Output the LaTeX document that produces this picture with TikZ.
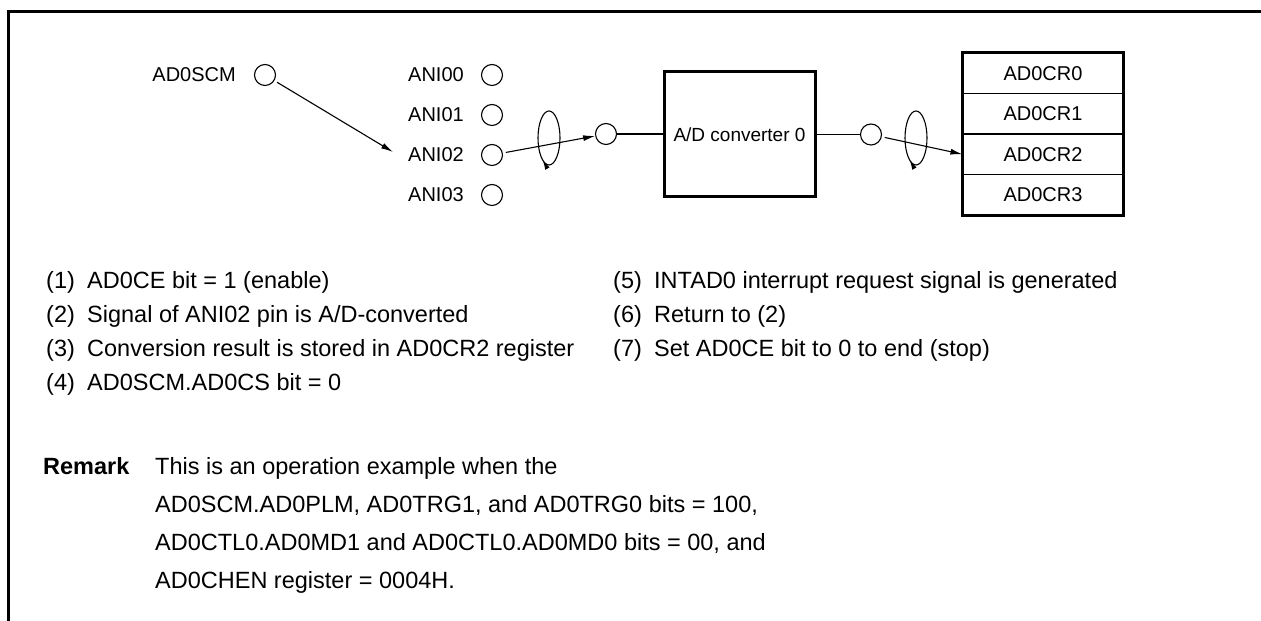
\documentclass[tikz,border=0pt]{standalone}
\usepackage{fontspec}
\setmainfont{Liberation Sans}
\usetikzlibrary{arrows.meta}
\newcommand{\itm}[1]{\makebox[41pt][l]{#1}}
\begin{document}
\begin{tikzpicture}[x=1pt,y=1pt,
  pinc/.style={circle,draw,line width=1.1pt,minimum size=21pt,inner sep=0pt},
  lbl/.style={inner sep=0pt,font=\fontsize{20}{24}\selectfont},
  body/.style={inner sep=0pt,anchor=base west,font=\fontsize{23.5}{28}\selectfont},
  arr/.style={line width=1.1pt,-{Latex[length=12pt,width=6pt]}},
  wire/.style={line width=1.1pt},
  rotarr/.style={line width=1.1pt,-{Latex[length=10pt,width=5pt]}},
  regrow/.style={draw,line width=1.1pt,minimum width=160pt,minimum height=40.5pt,inner sep=0pt,font=\fontsize{20}{24}\selectfont},
  thickbox/.style={draw,line width=3pt}
]
\useasboundingbox (0,0) rectangle (1261,621);
% frame
\draw[line width=3pt] (8,0) -- (8,609) -- (1262,609);

% source pins
\node[lbl,anchor=base east] (lscm) at (236,539) {AD0SCM};
\node[pinc] (sc) at (265,546) {};
\node[lbl,anchor=base east] (l0) at (464,539) {ANI00};
\node[pinc] (a0) at (492,546) {};
\node[lbl,anchor=base east] (l1) at (464,499) {ANI01};
\node[pinc] (a1) at (492,506) {};
\node[lbl,anchor=base east] (l2) at (464,459) {ANI02};
\node[pinc] (a2) at (492,466) {};
\node[lbl,anchor=base east] (l3) at (464,419) {ANI03};
\node[pinc] (a3) at (492,426) {};

\coordinate (t1) at (393,469);
\draw[arr,shorten <=3pt] (sc) -- (t1);

% converter
\node[pinc] (c1) at (606,487) {};
\draw[arr,shorten <=3pt] (a2) -- (c1);
\draw[wire] (549,483) ellipse [x radius=11, y radius=27];
\draw[rotarr] (549,483) ++(-100:11 and 27) arc[start angle=-100,end angle=-126,x radius=11,y radius=27];

\node[thickbox,minimum width=151pt,minimum height=125pt,inner sep=0pt,font=\fontsize{19}{23}\selectfont] (conv) at (739.5,486.5) {A/D converter 0};
\draw[wire] (c1) -- (c1 -| conv.west);

\node[pinc] (c2) at (871,486.5) {};
\draw[wire] (conv.east |- c2) -- (c2);

% registers
\node[regrow] (r0) at (1043,547.75) {AD0CR0};
\node[regrow] (r1) at (1043,507.25) {AD0CR1};
\node[regrow] (r2) at (1043,466.75) {AD0CR2};
\node[regrow] (r3) at (1043,426.25) {AD0CR3};
\draw[line width=3pt] (r0.north west) rectangle (r3.south east);

\draw[arr,shorten <=3pt] (c2) -- (r2.west);
\draw[wire] (916,483) ellipse [x radius=11, y radius=27];
\draw[rotarr] (916,483) ++(-100:11 and 27) arc[start angle=-100,end angle=-126,x radius=11,y radius=27];

% list
\node[body] (n1) at (46,332.6) {\itm{(1)}AD0CE bit = 1 (enable)};
\node[body] (n2) at (46,298.6) {\itm{(2)}Signal of ANI02 pin is A/D-converted};
\node[body] (n3) at (46,264.6) {\itm{(3)}Conversion result is stored in AD0CR2 register};
\node[body] (n4) at (46,230.6) {\itm{(4)}AD0SCM.AD0CS bit = 0};
\node[body] (n5) at (613,332.6) {\itm{(5)}INTAD0 interrupt request signal is generated};
\node[body] (n6) at (613,298.6) {\itm{(6)}Return to (2)};
\node[body] (n7) at (613,264.6) {\itm{(7)}Set AD0CE bit to 0 to end (stop)};

% remark
\node[body,font=\fontsize{23.5}{28}\selectfont\bfseries] (rm) at (43,146.6) {Remark};
\node[body] (m1) at (155,146.6) {This is an operation example when the};
\node[body] (m2) at (155,108.6) {AD0SCM.AD0PLM, AD0TRG1, and AD0TRG0 bits = 100,};
\node[body] (m3) at (155,70.6) {AD0CTL0.AD0MD1 and AD0CTL0.AD0MD0 bits = 00, and};
\node[body] (m4) at (155,32.6) {AD0CHEN register = 0004H.};
\end{tikzpicture}
\end{document}
